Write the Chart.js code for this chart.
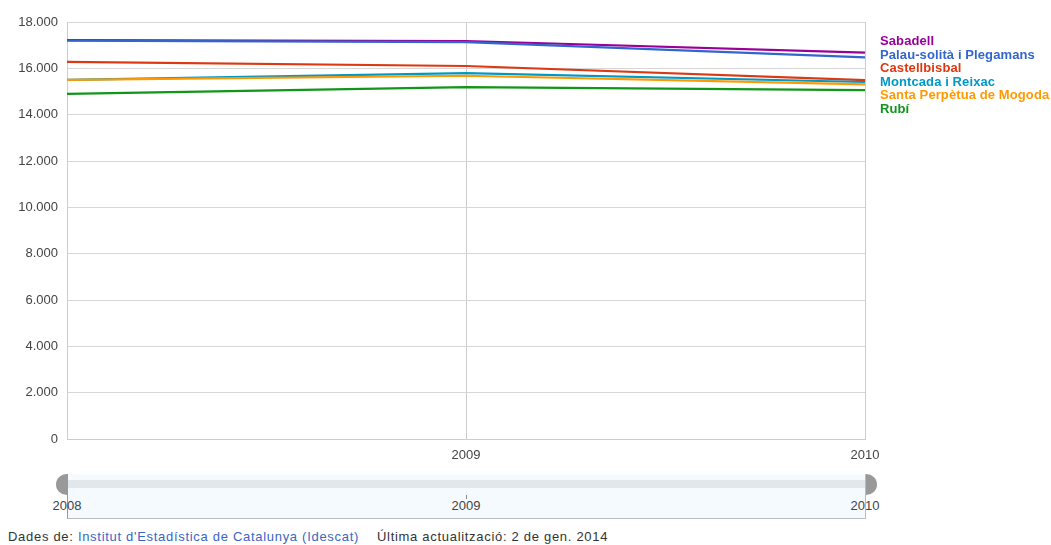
<!DOCTYPE html>
<html>
<head>
<meta charset="utf-8">
<script src="https://cdn.jsdelivr.net/npm/chart.js@4/dist/chart.umd.min.js"></script>
<style>
  html, body { margin: 0; padding: 0; background: #fff; }
  body { width: 1051px; height: 545px; position: relative; overflow: hidden; font-family: Arial, "Liberation Sans", sans-serif; }
  #c { position: absolute; left: 0; top: 0; width: 1051px; height: 470px; }
  #legend { position: absolute; left: 880px; top: 34px; font: bold 13px Arial, "Liberation Sans", sans-serif; line-height: 13.6px; letter-spacing: 0.1px; white-space: nowrap; }
  #selector { position: absolute; top: 474px; height: 45px; background: #f5fafe; border-left: 1px solid #999; border-right: 1px solid #bbb; border-bottom: 1px solid #bbb; box-sizing: border-box; }
  #selbar { position: absolute; left: 0; right: 0; top: 6px; height: 8px; background: #e1e7eb; }
  .handle { position: absolute; top: 474px; width: 11px; height: 21px; background: #999; }
  .hl { border-radius: 11px 0 0 11px / 10.5px 0 0 10.5px; }
  .hr { border-radius: 0 11px 11px 0 / 0 10.5px 10.5px 0; }
  .slab { position: absolute; top: 498px; font: 13px Arial, "Liberation Sans", sans-serif; color: #444; transform: translateX(-50%); }
  .stick { position: absolute; top: 495px; width: 1px; height: 4px; background: #888; }
  #footer { position: absolute; left: 8px; top: 529px; font: 13px Arial, "Liberation Sans", sans-serif; letter-spacing: 0.7px; color: #333; white-space: nowrap; }
  #footer a { color: #3d64c4; text-decoration: none; }
</style>
</head>
<body>
<canvas id="c" width="1051" height="470"></canvas>
<div id="legend"></div>
<div id="selector"><div id="selbar"></div></div>
<div id="footer">Dades de: <a href="#">Institut d'Estadística de Catalunya (Idescat)</a><span style="display:inline-block;width:18px"></span>Última actualització: 2 de gen. 2014</div>
<script>
const years = ['2008', '2009', '2010'];
const seriesNames = ['Sabadell', 'Palau-solità i Plegamans', 'Castellbisbal', 'Montcada i Reixac', 'Santa Perpètua de Mogoda', 'Rubí'];
const sabadell = [17220, 17180, 16680];
const palau = [17200, 17130, 16470];
const castellbisbal = [16280, 16100, 15490];
const montcada = [15500, 15790, 15410];
const santaPerpetua = [15500, 15680, 15310];
const rubi = [14900, 15190, 15060];
const yTicks = [0, 2000, 4000, 6000, 8000, 10000, 12000, 14000, 16000, 18000];
const colors = ['#990099', '#3366cc', '#dc3912', '#0099c6', '#ff9900', '#109618'];

const values = [sabadell, palau, castellbisbal, montcada, santaPerpetua, rubi];
const datasets = seriesNames.map((n, i) => ({
  label: n,
  data: values[i],
  borderColor: colors[i],
  backgroundColor: colors[i],
  borderWidth: 2.2,
  pointRadius: 0,
  tension: 0,
  fill: false
}));
datasets.reverse();

const fmt = v => v.toLocaleString('de-DE');
const axisFont = { family: 'Arial, "Liberation Sans", sans-serif', size: 13 };

const chart = new Chart(document.getElementById('c'), {
  type: 'line',
  data: { labels: years, datasets },
  options: {
    responsive: false,
    maintainAspectRatio: false,
    animation: false,
    devicePixelRatio: 1,
    layout: { padding: { left: 0, right: 186, top: 22, bottom: 0 } },
    plugins: { legend: { display: false }, tooltip: { enabled: false } },
    scales: {
      x: {
        type: 'category',
        offset: false,
        grid: { color: '#cccccc', drawTicks: false, lineWidth: 1 },
        border: { color: '#cccccc' },
        ticks: {
          color: '#444',
          font: axisFont,
          padding: 9,
          maxRotation: 0,
          autoSkip: false,
          callback: function (v, i) { return i === 0 ? '' : years[i]; }
        },
        afterFit: s => { s.height = 31; }
      },
      y: {
        min: 0,
        max: 18000,
        afterBuildTicks: s => { s.ticks = yTicks.map(v => ({ value: v })); },
        grid: { color: '#d6d6d6', drawTicks: false, lineWidth: 1 },
        border: { color: '#cccccc' },
        ticks: {
          color: '#444',
          font: axisFont,
          padding: 9,
          callback: v => fmt(v)
        },
        afterFit: s => { s.width = 67; }
      }
    }
  }
});

const leg = document.getElementById('legend');
seriesNames.forEach((n, i) => {
  const d = document.createElement('div');
  d.textContent = n;
  d.style.color = colors[i];
  leg.appendChild(d);
});

function placeSelector() {
  const xs = chart.scales.x;
  const x0 = xs.getPixelForValue(0);
  const x1 = xs.getPixelForValue(years.length - 1);
  const sel = document.getElementById('selector');
  sel.style.left = Math.round(x0) + 'px';
  sel.style.width = Math.round(x1 - x0 + 1) + 'px';
  const hl = document.createElement('div');
  hl.className = 'handle hl';
  hl.style.left = (Math.round(x0) - 11) + 'px';
  document.body.appendChild(hl);
  const hr = document.createElement('div');
  hr.className = 'handle hr';
  hr.style.left = (Math.round(x1) + 1) + 'px';
  document.body.appendChild(hr);
  years.forEach((y, i) => {
    const px = xs.getPixelForValue(i);
    const l = document.createElement('div');
    l.className = 'slab';
    l.textContent = y;
    l.style.left = px + 'px';
    document.body.appendChild(l);
    if (i > 0 && i < years.length - 1) {
      const t = document.createElement('div');
      t.className = 'stick';
      t.style.left = Math.round(px) + 'px';
      document.body.appendChild(t);
    }
  });
}
placeSelector();
</script>
</body>
</html>
